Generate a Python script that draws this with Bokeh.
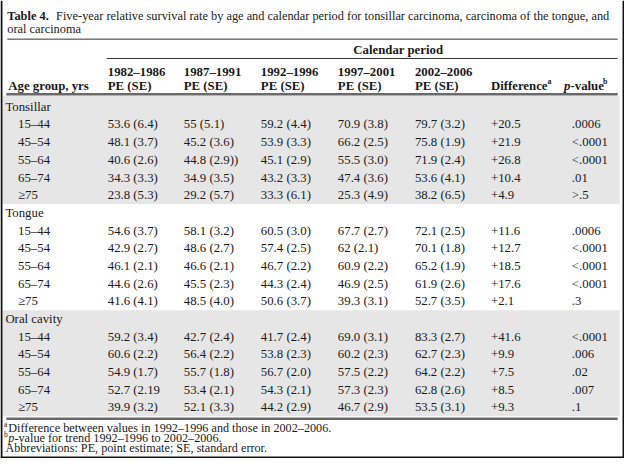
from bokeh.plotting import figure
from bokeh.models import Range1d, ColumnDataSource
from bokeh.embed import file_html
from bokeh.resources import INLINE
from bokeh.core.properties import value

# ---------------- data ----------------
age_groups = ["15–44", "45–54", "55–64", "65–74", "≥75"]
sites = ["Tonsillar", "Tongue", "Oral cavity"]
periods = ["1982–1986", "1987–1991", "1992–1996", "1997–2001", "2002–2006"]

tonsillar_cells = [
    ["53.6 (6.4)", "55 (5.1)", "59.2 (4.4)", "70.9 (3.8)", "79.7 (3.2)"],
    ["48.1 (3.7)", "45.2 (3.6)", "53.9 (3.3)", "66.2 (2.5)", "75.8 (1.9)"],
    ["40.6 (2.6)", "44.8 (2.9))", "45.1 (2.9)", "55.5 (3.0)", "71.9 (2.4)"],
    ["34.3 (3.3)", "34.9 (3.5)", "43.2 (3.3)", "47.4 (3.6)", "53.6 (4.1)"],
    ["23.8 (5.3)", "29.2 (5.7)", "33.3 (6.1)", "25.3 (4.9)", "38.2 (6.5)"],
]
tonsillar_diff = ["+20.5", "+21.9", "+26.8", "+10.4", "+4.9"]
tonsillar_p = [".0006", "<.0001", "<.0001", ".01", ">.5"]

tongue_cells = [
    ["54.6 (3.7)", "58.1 (3.2)", "60.5 (3.0)", "67.7 (2.7)", "72.1 (2.5)"],
    ["42.9 (2.7)", "48.6 (2.7)", "57.4 (2.5)", "62 (2.1)", "70.1 (1.8)"],
    ["46.1 (2.1)", "46.6 (2.1)", "46.7 (2.2)", "60.9 (2.2)", "65.2 (1.9)"],
    ["44.6 (2.6)", "45.5 (2.3)", "44.3 (2.4)", "46.9 (2.5)", "61.9 (2.6)"],
    ["41.6 (4.1)", "48.5 (4.0)", "50.6 (3.7)", "39.3 (3.1)", "52.7 (3.5)"],
]
tongue_diff = ["+11.6", "+12.7", "+18.5", "+17.6", "+2.1"]
tongue_p = [".0006", "<.0001", "<.0001", "<.0001", ".3"]

oral_cells = [
    ["59.2 (3.4)", "42.7 (2.4)", "41.7 (2.4)", "69.0 (3.1)", "83.3 (2.7)"],
    ["60.6 (2.2)", "56.4 (2.2)", "53.8 (2.3)", "60.2 (2.3)", "62.7 (2.3)"],
    ["54.9 (1.7)", "55.7 (1.8)", "56.7 (2.0)", "57.5 (2.2)", "64.2 (2.2)"],
    ["52.7 (2.19", "53.4 (2.1)", "54.3 (2.1)", "57.3 (2.3)", "62.8 (2.6)"],
    ["39.9 (3.2)", "52.1 (3.3)", "44.2 (2.9)", "46.7 (2.9)", "53.5 (3.1)"],
]
oral_diff = ["+41.6", "+9.9", "+7.5", "+8.5", "+9.3"]
oral_p = ["<.0001", ".006", ".02", ".007", ".1"]

title_bold = "Table 4."
title_line1 = ("Five-year relative survival rate by age and calendar period for tonsillar "
               "carcinoma, carcinoma of the tongue, and")
title_line2 = "oral carcinoma"
footnote_a = "Difference between values in 1992–1996 and those in 2002–2006."
footnote_b = "-value for trend 1992–1996 to 2002–2006."
footnote_abbr = "Abbreviations: PE, point estimate; SE, standard error."

# ---------------- layout (reference pixel space 640 x 474) ----------------
W, H = 640, 474
FONT = value("Liberation Serif")
FS = "12.8px"
COL_X = [110, 188, 267, 346, 425]
DIFF_X = 503
P_X = 586
LABEL_X = 5
SUB_X = 18
Y0 = 110
PITCH = 18.3

p = figure(width=624, height=458, x_range=Range1d(0, W), y_range=Range1d(H, 0),
           output_backend="svg", toolbar_location=None, min_border=0,
           background_fill_color="white", border_fill_color="white")
p.axis.visible = False
p.grid.visible = False
p.outline_line_color = None

GRAY = "#e6e6e6"
last_row = Y0 + 17 * PITCH
gray_end = last_row + 0.5 * PITCH
# gray section backgrounds (Tonsillar, Oral cavity)
p.quad(left=[2, 2], right=[635, 635],
       top=[98.5, Y0 + 11.5 * PITCH],
       bottom=[Y0 + 5.5 * PITCH, gray_end],
       fill_color=GRAY, line_color=None)

# rules
p.segment(x0=[7, 109], x1=[633, 633], y0=[40, 60], y1=[40, 60], line_color="#333333", line_width=1)
FR = gray_end + 2.5
p.segment(x0=[6, 6], x1=[633, 633], y0=[97, FR], y1=[97, FR],
          line_color="#6a6a6a", line_width=2.5)
# frame (left, right, bottom)
p.segment(x0=[1, 639, 0], x1=[1, 639, 640], y0=[0, 0, 473], y1=[473, 473, 473],
          line_color="#111111", line_width=2)

def txt(xs, ys, ts, size=FS, style="normal", color="#1a1a1a", align="left"):
    src = ColumnDataSource(dict(x=xs, y=ys, t=ts))
    p.text(x="x", y="y", text="t", source=src, text_font=FONT, text_font_size=size,
           text_font_style=style, text_baseline="middle", text_align=align, text_color=color)

# title
TS = "12.35px"
txt([7], [16], [title_bold], size=TS, style="bold")
txt([57], [16], [title_line1], size=TS)
txt([7], [30], [title_line2], size=TS)

# header
txt([408], [51], ["Calendar period"], style="bold", align="center")
txt(COL_X, [74] * 5, periods, style="bold")
txt(COL_X, [88] * 5, ["PE (SE)"] * 5, style="bold")
txt([8], [88], ["Age group, yrs"], style="bold")
txt([DIFF_X], [88], ["Difference"], style="bold")
txt([DIFF_X + 58], [84], ["a"], size="8px", style="bold")
txt([578], [88], ["p"], style="bold italic")
txt([584.6], [88], ["-value"], style="bold")
txt([618], [84], ["b"], size="8px", style="bold")

# body
blocks = [(tonsillar_cells, tonsillar_diff, tonsillar_p),
          (tongue_cells, tongue_diff, tongue_p),
          (oral_cells, oral_diff, oral_p)]
lx, ly, lt = [], [], []
cx, cy, ct = [], [], []
for b, (cells, diffs, pvals) in enumerate(blocks):
    yb = Y0 + b * 6 * PITCH
    lx.append(LABEL_X); ly.append(yb); lt.append(sites[b])
    for i, age in enumerate(age_groups):
        yy = Y0 + (b * 6 + 1 + i) * PITCH
        lx.append(SUB_X); ly.append(yy); lt.append(age)
        for j, c in enumerate(cells[i]):
            cx.append(COL_X[j]); cy.append(yy); ct.append(c)
        cx.append(DIFF_X); cy.append(yy); ct.append(diffs[i])
        cx.append(P_X); cy.append(yy); ct.append(pvals[i])
txt(lx, ly, lt)
txt(cx, cy, ct)

# footnotes
FS_N = "12.2px"
txt([3.5], [FR + 6], ["a"], size="7.5px")
txt([8], [FR + 9.5], [footnote_a], size=FS_N)
txt([3.5], [FR + 16.5], ["b"], size="7.5px")
txt([8], [FR + 20], ["p"], size=FS_N, style="italic")
txt([14.3], [FR + 20], [footnote_b], size=FS_N)
txt([5], [FR + 30.5], [footnote_abbr], size=FS_N)

open("out.html", "w").write(file_html(p, INLINE))
